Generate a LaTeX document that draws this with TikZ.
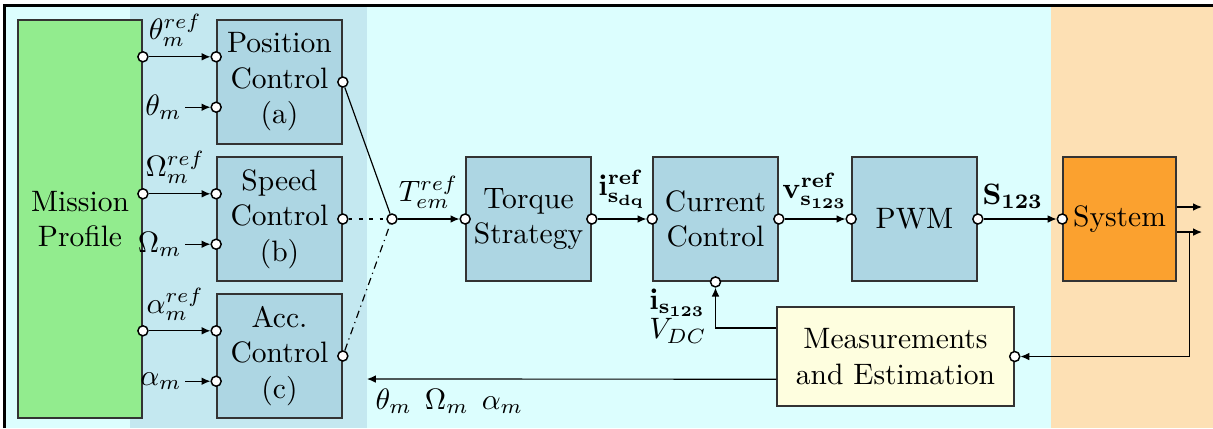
\documentclass[tikz,border=0pt]{standalone}
\usepackage{amssymb}
\usepackage{amsmath}
\usepackage{tikz}
\usepackage{xcolor}
\usetikzlibrary{%
	calc,%
	arrows.meta,%
	shapes
}

\definecolor{bgcyan}{HTML}{DCFEFE}
\definecolor{bandblue}{HTML}{C4E8F0}
\definecolor{boxblue}{HTML}{ADD6E3}
\definecolor{boxgreen}{HTML}{92EC8E}
\definecolor{boxorange}{HTML}{FBA12F}
\definecolor{bandorange}{HTML}{FDE0B4}
\definecolor{boxyellow}{HTML}{FEFEDF}

\begin{document}
\begin{tikzpicture}
		[x=0.0119cm,y=-0.0119cm,
		>={Latex[length=3pt,width=2.6pt]},
		block/.style={draw=black!80,line width=0.5pt,fill=boxblue,minimum width=1.49cm,minimum height=1.48cm,align=center,inner sep=1pt},
		port/.style={draw,fill=white,circle,inner sep=0pt,minimum size=3.4pt,line width=0.5pt},
		sig/.style={->,line width=0.4pt}
		]
		\useasboundingbox (0,0) rectangle (1213,428);
		
		% background
		\fill[bgcyan] (5,6) rectangle (1213,428);
		\fill[bandblue] (130,6) rectangle (367,428);
		\fill[bandorange] (1051,6) rectangle (1213,428);
		\draw[line width=0.7pt] (4.5,428) -- (4.5,5.5) -- (1213,5.5);
		
		% blocks
		\node[block,fill=boxgreen,minimum height=4.74cm,minimum width=1.48cm] (mp) at (80,219) {Mission\\Profile};
		\node[block] (pos) at (279.5,82) {Position\\Control\\(a)};
		\node[block] (spd) at (279.5,219) {Speed\\Control\\(b)};
		\node[block] (acc) at (279.5,356) {Acc.\\Control\\(c)};
		\node[block] (tq) at (528.5,219) {Torque\\Strategy};
		\node[block] (cur) at (715.5,219) {Current\\Control};
		\node[block] (pwm) at (914.5,219) {PWM};
		\node[block,fill=boxorange,minimum width=1.345cm] (sys) at (1119.5,219) {System};
		\node[block,fill=boxyellow,minimum width=2.82cm,minimum height=1.18cm] (meas) at (895.5,356.5) {Measurements\\and Estimation};
		
		% mission profile to the three controllers
		\foreach \b/\v in {pos/\theta,spd/\Omega,acc/\alpha}{
			\node[port] (\b-in1) at ([yshift=0.3cm]\b.west) {};
			\node[port] (\b-in2) at ([yshift=-0.3cm]\b.west) {};
			\node[port] (\b-out) at (\b.east) {};
			\node[port] (mp-\b) at (mp.east |- \b-in1) {};
			\draw[sig] (mp-\b) -- node[above,pos=0.43]{$\v_m^{ref}$} (\b-in1);
			\coordinate (\b-m) at ([xshift=-0.3cm]\b-in2.west);
			\draw[sig] (\b-m) node[left,inner sep=1pt]{$\v_m$} -- (\b-in2);
		}
		
		% torque reference
		\node[port] (jn) at (392,219) {};
		\draw (pos-out) -- (jn);
		\draw[dash pattern=on 1.3pt off 2.2pt] (spd-out) -- (jn);
		\draw[dash pattern=on 2.5pt off 1.5pt on 0.4pt off 1.5pt] (acc-out) -- (jn);
		
		% main chain
		\node[port] (tq-in) at (tq.west) {};
		\node[port] (tq-out) at (tq.east) {};
		\node[port] (cur-in) at (cur.west) {};
		\node[port] (cur-out) at (cur.east) {};
		\node[port] (cur-bot) at (cur.south) {};
		\node[port] (pwm-in) at (pwm.west) {};
		\node[port] (pwm-out) at (pwm.east) {};
		\node[port] (sys-in) at (sys.west) {};
		\node[port] (meas-in) at (meas.east) {};
		
		\draw[sig] (jn) -- node[above]{$T_{em}^{ref}$} (tq-in);
		\draw[sig] (tq-out) -- node[above]{$\mathbf{i}^{\mathbf{ref}}_{\mathbf{s_{dq}}}$} (cur-in);
		\draw[sig] (cur-out) -- node[above]{$\mathbf{v}^{\mathbf{ref}}_{\mathbf{s_{123}}}$} (pwm-in);
		\draw[sig] (pwm-out) -- node[above,pos=0.4]{$\mathbf{S_{123}}$} (sys-in);
		
		% system outputs and feedback
		\coordinate (so1) at ([yshift=0.143cm]sys.east);
		\coordinate (so2) at ([yshift=-0.155cm]sys.east);
		\draw[sig] (so1) -- ++(0.3cm,0);
		\draw[sig] (so2) -- ++(0.3cm,0);
		\coordinate (fb) at ([xshift=0.155cm]so2);
		\draw[sig] (fb) |- (meas-in);
		
		% measurements back
		\coordinate (mc) at ([yshift=0.34cm]meas.west);
		\draw[sig] (mc) -| (cur-bot);
		\node[anchor=east,align=left,inner sep=1pt] (meas-lbl) at (710,316) {$\mathbf{i_{s_{123}}}$\\[-2pt]$V_{DC}$};
		\coordinate (ml) at ([yshift=-0.27cm]meas.west);
		\coordinate (fb-end) at (367,379);
		\draw[sig] (ml) -- (fb-end);
		\node[anchor=north west,inner sep=1pt] (fb-lbl) at (372,385) {$\theta_m\;\,\Omega_m\;\,\alpha_m$};
	\end{tikzpicture}
\end{document}
